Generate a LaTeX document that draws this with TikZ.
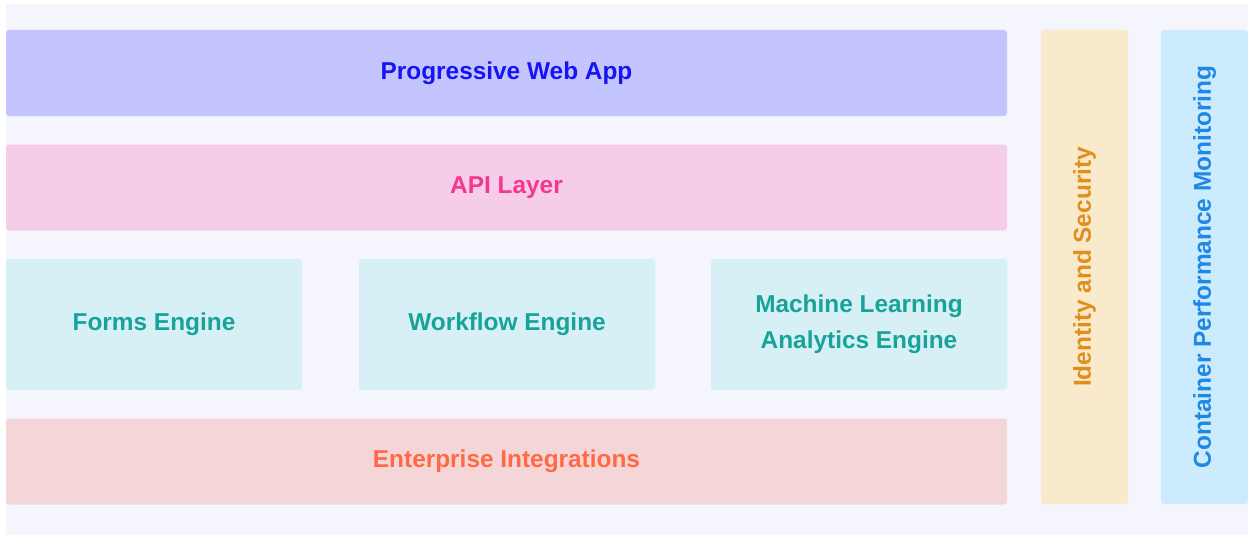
\documentclass[tikz,border=0pt]{standalone}
\usepackage{fontspec}
\setmainfont{Liberation Sans}
\definecolor{canvas}{HTML}{F4F5FD}
\definecolor{pwafill}{HTML}{C4C4FF}
\definecolor{pwatext}{HTML}{1414F5}
\definecolor{apifill}{HTML}{F5CDE8}
\definecolor{apitext}{HTML}{F5388F}
\definecolor{engfill}{HTML}{D6F0F5}
\definecolor{engtext}{HTML}{17A39A}
\definecolor{entfill}{HTML}{F5D6D8}
\definecolor{enttext}{HTML}{FF6A45}
\definecolor{idfill}{HTML}{F8EACB}
\definecolor{idtext}{HTML}{E08F1E}
\definecolor{monfill}{HTML}{CCEBFD}
\definecolor{montext}{HTML}{1E88E5}
\tikzset{
  layer/.style={rounded corners=3pt, inner sep=0pt, align=center,
    font=\fontsize{24.4}{36}\selectfont\bfseries},
  wide/.style={layer, minimum width=1001pt, minimum height=86pt},
  engine/.style={layer, fill=engfill, text=engtext, minimum width=296pt, minimum height=131pt},
  pillar/.style={layer, rotate=90, minimum width=474pt, minimum height=87pt}
}
\begin{document}
\begin{tikzpicture}[x=1pt,y=-1pt]
	\useasboundingbox (0,0) rectangle (1248,535);
	\fill[canvas] (6,4) rectangle (1248,535);
	\node[wide, fill=pwafill, text=pwatext] (pwa) at (506.5,73) {Progressive Web App};
	\node[wide, fill=apifill, text=apitext] (api) at (506.5,187.5) {API Layer};
	\node[engine] (forms) at (154,324.5) {Forms Engine};
	\node[engine] (workflow) at (507,324.5) {Workflow Engine};
	\node[engine] (ml) at (859,324.5) {Machine Learning\\Analytics Engine};
	\node[wide, fill=entfill, text=enttext] (ent) at (506.5,461.5) {Enterprise Integrations};
	\node[pillar, fill=idfill, text=idtext] (ident) at (1084.5,267) {Identity and Security};
	\node[pillar, fill=monfill, text=montext] (mon) at (1204.5,267) {Container Performance Monitoring};
\end{tikzpicture}
\end{document}
